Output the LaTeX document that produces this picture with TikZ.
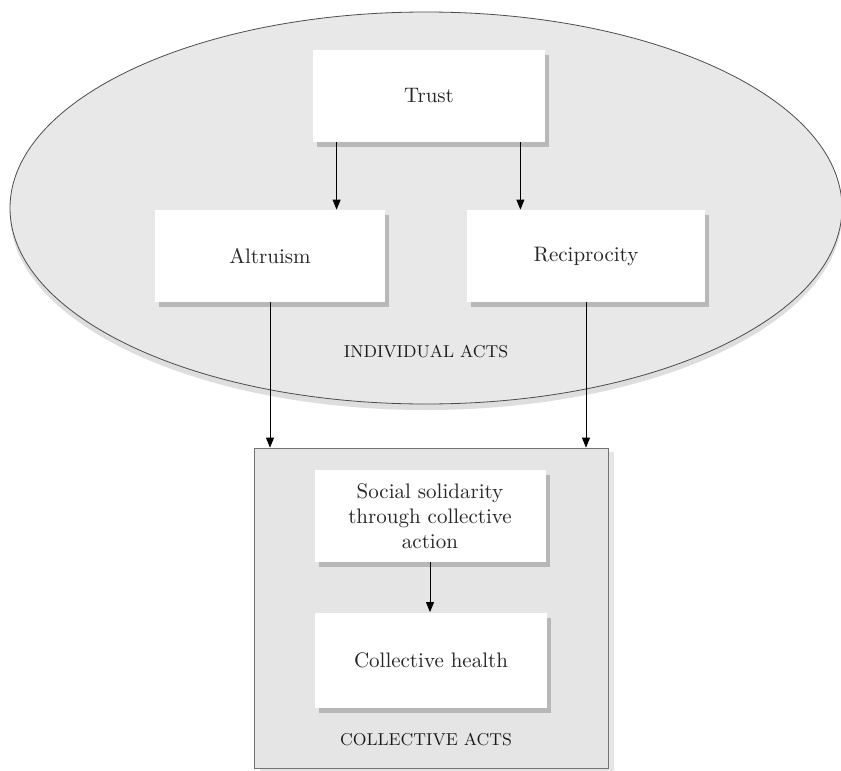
\documentclass[tikz,border=0pt]{standalone}
\usetikzlibrary{arrows.meta,shadows,shapes.geometric}

\begin{document}
\begin{tikzpicture}[x=0.5pt, y=-0.5pt, font=\fontsize{10.5}{12.5}\selectfont, text=black!85,
  box/.style={fill=white, minimum width=116pt, minimum height=46pt, align=center,
    drop shadow={shadow xshift=2pt, shadow yshift=-2.5pt, fill=black!40, opacity=.6}},
  arr/.style={-{Triangle[length=5pt,width=4pt]}, thin},
  actlabel/.style={font=\fontsize{8.6}{10}\selectfont, text=black!90}]
  \useasboundingbox[fill=white] (0,0) rectangle (841,771);
  % individual acts: the ellipse
  \node[ellipse, draw=black!70, fill=black!9, minimum width=416pt, minimum height=196pt,
    drop shadow={shadow xshift=0pt, shadow yshift=-3pt, fill=black!25, opacity=.5}]
    (indiv) at (426,208) {};
  \node[box] (trust) at (429,96) {Trust};
  \node[box, minimum width=115pt] (altr) at (270,256) {Altruism};
  \node[box, minimum width=119pt] (recip) at (586,256) {Reciprocity};
  \node[actlabel] (indivlabel) at (426,352) {INDIVIDUAL ACTS};
  % collective acts: the grey box
  \node[draw=black!55, fill=black!10, minimum width=177pt, minimum height=160pt,
    drop shadow={shadow xshift=3pt, shadow yshift=-2pt, fill=black!20, opacity=.5}]
    (coll) at (431,608) {};
  \node[box, minimum width=115.5pt] (solid) at (430,516) {Social solidarity\\through collective\\action};
  \node[box, minimum height=47.5pt] (health) at (431,660) {Collective health};
  \node[actlabel] (colllabel) at (426,740) {COLLECTIVE ACTS};
  % arrows
  \draw[arr] ([xshift=12pt]trust.south west) -- ([xshift=12pt]trust.south west |- altr.north);
  \draw[arr] ([xshift=-12.5pt]trust.south east) -- ([xshift=-12.5pt]trust.south east |- recip.north);
  \draw[arr] (altr) -- (altr |- coll.north);
  \draw[arr] (recip) -- (recip |- coll.north);
  \draw[arr] (solid.south) -- (solid.south |- health.north);
\end{tikzpicture}
\end{document}
